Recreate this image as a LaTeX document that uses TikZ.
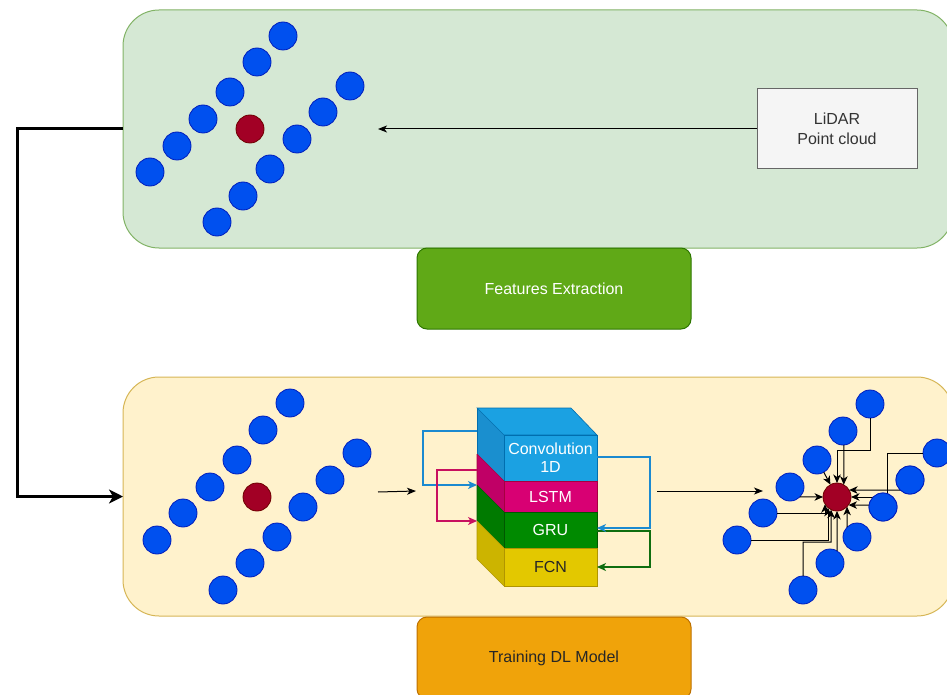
\documentclass[tikz,border=0pt]{standalone}
\usepackage{fontspec}
\setmainfont{Liberation Sans}
\usetikzlibrary{arrows.meta,calc}
\definecolor{pgreenF}{HTML}{D5E8D4}
\definecolor{pgreenS}{HTML}{82B366}
\definecolor{pyelF}{HTML}{FFF2CC}
\definecolor{pyelS}{HTML}{D6B656}
\definecolor{featF}{HTML}{60A917}
\definecolor{featS}{HTML}{2D7600}
\definecolor{trainF}{HTML}{F0A30A}
\definecolor{trainS}{HTML}{BD7000}
\definecolor{lidF}{HTML}{F5F5F5}
\definecolor{lidS}{HTML}{666666}
\definecolor{lidT}{HTML}{333333}
\definecolor{dotF}{HTML}{0050EF}
\definecolor{dotS}{HTML}{001DBC}
\definecolor{redF}{HTML}{A20025}
\definecolor{redS}{HTML}{6F0000}
\definecolor{convF}{HTML}{1BA1E2}
\definecolor{convD}{HTML}{1A8FCF}
\definecolor{convS}{HTML}{006EAF}
\definecolor{lstmF}{HTML}{D80073}
\definecolor{lstmD}{HTML}{C00066}
\definecolor{lstmS}{HTML}{A50040}
\definecolor{gruF}{HTML}{008A00}
\definecolor{gruD}{HTML}{007A00}
\definecolor{gruS}{HTML}{005700}
\definecolor{fcnF}{HTML}{E3C800}
\definecolor{fcnD}{HTML}{CCB400}
\definecolor{fcnS}{HTML}{B09500}
\definecolor{fbBlue}{HTML}{1B8AD0}
\definecolor{fbMag}{HTML}{C8105F}
\definecolor{fbGreen}{HTML}{0F6E0F}
\tikzset{
  panel/.style={rectangle, rounded corners=36pt, inner sep=0pt, outer sep=0pt, line width=1pt},
  labelbox/.style={rectangle, rounded corners=10pt, inner sep=0pt, outer sep=0pt, line width=1pt,
    minimum width=274pt, font=\fontsize{16}{19}\selectfont},
  bdot/.style={circle, fill=dotF, draw=dotS, line width=0.8pt, minimum size=28pt, inner sep=0pt, outer sep=0pt},
  rdot/.style={circle, fill=redF, draw=redS, line width=0.8pt, minimum size=28pt, inner sep=0pt, outer sep=0pt},
  layer/.style={rectangle, inner sep=0pt, outer sep=0pt, minimum width=93pt, line width=0.6pt,
    font=\fontsize{16}{19}\selectfont, align=center},
  arr/.style={line width=1pt, -{Stealth[length=9pt,width=7pt,inset=2.5pt]}},
  carr/.style={line width=1pt, -{Stealth[length=8.5pt,width=7.5pt,inset=2.5pt]}},
  farr/.style={line width=1.2pt, -{Stealth[length=9pt,width=8pt,inset=2.5pt]}},
  thick arr/.style={line width=3pt, -{Stealth[length=14pt,width=14pt,inset=4pt]}},
}
\begin{document}
\begin{tikzpicture}[x=1pt,y=-1pt]
\useasboundingbox (0,0) rectangle (947,695);
\clip (0,0) rectangle (947,695);

% panels
\node[panel, fill=pgreenF, draw=pgreenS, minimum width=830pt, minimum height=238pt] (top) at (538,129) {};
\node[panel, fill=pyelF, draw=pyelS, minimum width=830pt, minimum height=239pt] (bot) at (538,496.5) {};
\node[labelbox, fill=featF, draw=featS, text=white, minimum height=81pt] (feat) at (554,288.5) {Features Extraction};
\node[labelbox, fill=trainF, draw=trainS, text=black!85, minimum height=82pt] (train) at (554,658) {Training DL Model};

% LiDAR
\node[rectangle, fill=lidF, draw=lidS, line width=1pt, minimum width=160pt, minimum height=80pt,
  inner sep=0pt, outer sep=0pt, text=lidT, align=center, font=\fontsize{16}{20}\selectfont] (lidar) at (837,129) {LiDAR\\Point cloud};
\coordinate (lidEnd) at (378,129);
\draw[arr] (lidar.west) -- (lidEnd);

% left connector
\draw[thick arr] (top.west) -- (17,129) -- (17,496.5) -- (bot.west);

% top dots
\foreach \n/\x/\y in {t1/283/36, t2/257/62, t3/230/92, t4/203/119, t5/177/146, t6/150/172,
  t7/350/86, t8/323/112, t9/297/139, t10/270/169, t11/243/196, t12/217/222}
  \node[bdot] (\n) at (\x,\y) {};
\node[rdot] (tc) at (250,129) {};

% bottom-left dots
\foreach \n/\x/\y in {l1/290/403, l2/263/430, l3/237/460, l4/210/487, l5/183/513, l6/157/540,
  l7/357/453, l8/330/480, l9/303/507, l10/277/537, l11/250/563, l12/223/590}
  \node[bdot] (\n) at (\x,\y) {};
\node[rdot] (lc) at (257,497) {};

% arrows around stack
\coordinate (inS) at (378,492);
\coordinate (inE) at (416,491);
\draw[arr] (inS) -- (inE);
\coordinate (outS) at (657,491);
\coordinate (outE) at (763,491);
\draw[arr] (outS) -- (outE);

% stack side faces
\fill[convD] (477,408) -- (504,435) -- (504,481) -- (477,454) -- cycle;
\fill[lstmD] (477,454) -- (504,481) -- (504,512) -- (477,485) -- cycle;
\fill[gruD] (477,485) -- (504,512) -- (504,548) -- (477,521) -- cycle;
\fill[fcnD] (477,521) -- (504,548) -- (504,586) -- (477,559) -- cycle;
\fill[convF] (477,408) -- (571,408) -- (597,435) -- (504,435) -- cycle;
\draw[convS, line width=0.6pt] (477,408) -- (571,408) -- (597,435) -- (504,435) -- cycle;
\draw[convS, line width=0.6pt] (477,408) -- (477,454) (504,435)--(504,481);
\draw[lstmS, line width=0.6pt] (477,454) -- (477,485) (477,454) -- (504,481);
\draw[gruS, line width=0.6pt] (477,485) -- (477,521) (477,485) -- (504,512);
\draw[fcnS, line width=0.6pt] (477,521) -- (477,559) -- (504,586) (477,521) -- (504,548);
% front faces
\node[layer, fill=convF, draw=convS, text=white, minimum height=46pt] (conv) at (550.5,458) {Convolution\\[-1pt]1D};
\node[layer, fill=lstmF, draw=lstmS, text=white, minimum height=31pt] (lstm) at (550.5,496.5) {LSTM};
\node[layer, fill=gruF, draw=gruS, text=white, minimum height=36pt] (gru) at (550.5,530) {GRU};
\node[layer, fill=fcnF, draw=fcnS, text=black!85, minimum height=38pt] (fcn) at (550.5,567) {FCN};

% feedback connectors
\coordinate (convL) at (477,431);
\coordinate (lstmL) at (477,470);
\coordinate (lstmIn) at (477,485);
\coordinate (gruIn) at (477,521);
\coordinate (convR) at (597,457);
\coordinate (gruR) at (597,528);
\coordinate (gruR2) at (597,531);
\draw[fbBlue, farr] (convL) -- (423,431) -- (423,485) -- (lstmIn);
\draw[fbMag, farr] (lstmL) -- (437,470) -- (437,521) -- (gruIn);
\draw[fbGreen, farr] (gruR2) -- (650,531) -- (650,567) -- (fcn.east);
\draw[fbBlue, farr] (convR) -- (650,457) -- (650,528) -- (gruR);

% right cluster
\node[rdot] (c) at (837,497) {};
\foreach \n/\x/\y in {b1/870/404, b2/843/431, b3/817/460, b4/790/487, b5/763/513, b6/737/540,
  b12/937/453, b11/910/480, b10/883/507, b9/857/537, b8/830/563, b7/803/590}
  \node[bdot] (\n) at (\x,\y) {};
\draw[carr] (b1.south) |- (837,450) -- (c.north);
\draw[carr] (b2.-86) -- (c.61);
\draw[carr] (b3.-61.6) -- (c.118.4);
\draw[carr] (b4.-45.6) -- (c.west);
\draw[carr] (b5.east) -| (c.-149);
\draw[carr] (b6.east) -| (c.-130);
\draw[carr] (b7.north) |- (831,542) -- (c.-115.4);
\draw[carr] (b8.60) -- (c.-90);
\draw[carr] (b9.135.6) -- (c.-44.4);
\draw[carr] (b10.172) -- (c.-35);
\draw[carr] (b11.-134.4) -- (c.30);
\draw[carr] (b12.west) -| (887,497) -- (c.east);
% redraw dots on top of lines
\foreach \n in {b10,b11}
  \node[bdot] at (\n) {};
\end{tikzpicture}
\end{document}
